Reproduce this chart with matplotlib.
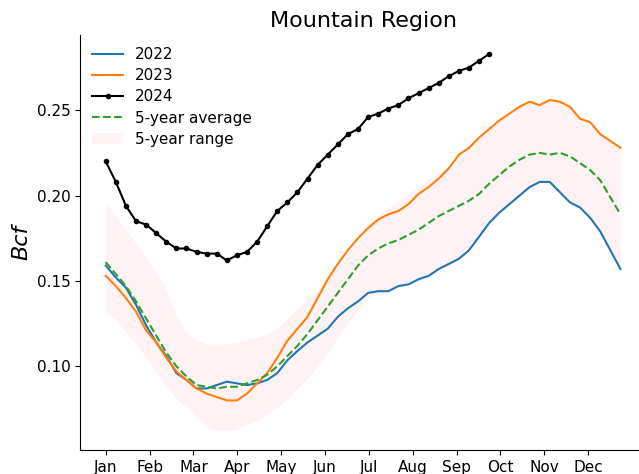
"""
Mountain Region storage chart: weekly values for 2022-2024 against the 5-year band.
"""

import numpy as np
import matplotlib
matplotlib.use("Agg")
import matplotlib.pyplot as plt

# Weekly values (Bcf), 52 weeks starting in early January
y2022 = [0.159, 0.152, 0.146, 0.136, 0.124, 0.114, 0.106, 0.096, 0.092, 0.087,
         0.087, 0.089, 0.091, 0.090, 0.089, 0.090, 0.092, 0.096, 0.1035, 0.109,
         0.114, 0.118, 0.122, 0.129, 0.134, 0.138, 0.143, 0.144, 0.144, 0.147,
         0.148, 0.151, 0.153, 0.157, 0.160, 0.163, 0.168, 0.176, 0.184, 0.190,
         0.195, 0.200, 0.205, 0.208, 0.208, 0.202, 0.196, 0.193, 0.187, 0.179,
         0.168, 0.157]

y2023 = [0.153, 0.147, 0.140, 0.132, 0.121, 0.114, 0.105, 0.097, 0.092, 0.087,
         0.084, 0.082, 0.080, 0.080, 0.084, 0.090, 0.096, 0.105, 0.115, 0.122,
         0.129, 0.140, 0.151, 0.160, 0.168, 0.175, 0.181, 0.186, 0.189, 0.191,
         0.195, 0.201, 0.205, 0.210, 0.216, 0.224, 0.228, 0.234, 0.239, 0.244,
         0.248, 0.252, 0.255, 0.253, 0.256, 0.255, 0.252, 0.245, 0.243, 0.236,
         0.232, 0.228]

# 2024 only runs to late September
y2024 = [0.220, 0.208, 0.194, 0.185, 0.183, 0.178, 0.173, 0.169, 0.169, 0.167,
         0.166, 0.166, 0.162, 0.165, 0.167, 0.173, 0.182, 0.191, 0.196, 0.202,
         0.210, 0.218, 0.224, 0.230, 0.236, 0.239, 0.246, 0.248, 0.251, 0.253,
         0.257, 0.260, 0.263, 0.266, 0.270, 0.273, 0.275, 0.279, 0.283]

avg5 = [0.161, 0.154, 0.147, 0.138, 0.128, 0.118, 0.108, 0.100, 0.094, 0.089,
        0.088, 0.087, 0.088, 0.088, 0.090, 0.092, 0.095, 0.100, 0.106, 0.112,
        0.119, 0.127, 0.135, 0.143, 0.151, 0.159, 0.165, 0.169, 0.172, 0.174,
        0.177, 0.180, 0.184, 0.188, 0.191, 0.194, 0.197, 0.201, 0.207, 0.212,
        0.217, 0.221, 0.224, 0.225, 0.224, 0.225, 0.223, 0.219, 0.215, 0.209,
        0.199, 0.189]

range_low = [0.132, 0.127, 0.120, 0.113, 0.105, 0.097, 0.088, 0.081, 0.076, 0.070,
             0.064, 0.0625, 0.062, 0.063, 0.066, 0.068, 0.072, 0.076, 0.081, 0.087,
             0.093, 0.100, 0.108, 0.117, 0.125, 0.133, 0.140, 0.143, 0.143, 0.146,
             0.147, 0.150, 0.152, 0.156, 0.159, 0.162, 0.167, 0.175, 0.183, 0.189,
             0.194, 0.199, 0.204, 0.207, 0.207, 0.201, 0.195, 0.192, 0.186, 0.178,
             0.167, 0.156]

range_high = [0.196, 0.188, 0.180, 0.172, 0.164, 0.155, 0.145, 0.130, 0.120, 0.115,
              0.113, 0.113, 0.113, 0.114, 0.116, 0.117, 0.119, 0.122, 0.128, 0.134,
              0.139, 0.144, 0.151, 0.159, 0.166, 0.172, 0.181, 0.188, 0.193, 0.197,
              0.201, 0.205, 0.209, 0.213, 0.217, 0.224, 0.228, 0.234, 0.239, 0.244,
              0.248, 0.252, 0.255, 0.253, 0.256, 0.255, 0.252, 0.245, 0.243, 0.236,
              0.232, 0.228]

months = ["Jan", "Feb", "Mar", "Apr", "May", "Jun",
          "Jul", "Aug", "Sep", "Oct", "Nov", "Dec"]

weeks = np.arange(len(y2022))
weeks_2024 = np.arange(len(y2024))

fig = plt.figure(figsize=(6.39, 4.74), dpi=100)
ax = fig.add_axes([0.1252, 0.0506, 0.886, 0.8755])

ax.plot(weeks, y2022, color="tab:blue", lw=1.5, label="2022")
ax.plot(weeks, y2023, color="tab:orange", lw=1.5, label="2023")
ax.plot(weeks_2024, y2024, color="black", lw=1.5, marker="o", markersize=3,
        label="2024")
ax.plot(weeks, avg5, color="tab:green", lw=1.5, ls="--", label="5-year average")
ax.fill_between(weeks, range_low, range_high, color="pink", alpha=0.2,
                lw=0, label="5-year range")

# month ticks, ~4.35 weeks per month
ax.set_xticks(np.arange(12) * 365 / 12 / 7)
ax.set_xticklabels(months)
ax.tick_params(labelsize=11)

ax.set_ylabel("Bcf", fontsize=16, fontstyle="italic")
ax.set_title("Mountain Region", fontsize=16)

ax.spines["top"].set_visible(False)
ax.spines["right"].set_visible(False)

ax.legend(loc="upper left", frameon=False, fontsize=11, labelspacing=0.4,
          borderaxespad=0.4)

fig.savefig("out.png", dpi=100)
